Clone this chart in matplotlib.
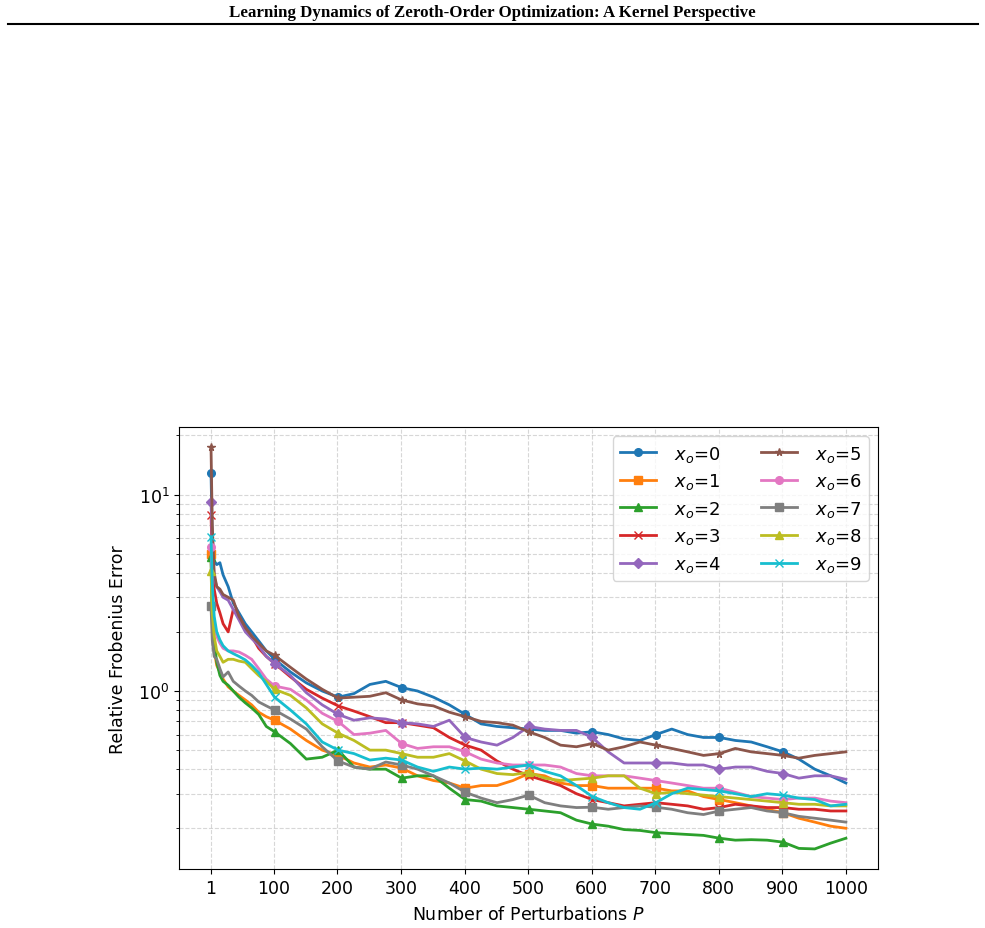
import numpy as np
import matplotlib
matplotlib.use('agg')
import matplotlib.pyplot as plt
from matplotlib.lines import Line2D

P = [1, 3, 6, 10, 15, 20, 28, 36, 45, 55, 65, 76, 88,
     101, 126, 151, 176, 201, 226, 251, 276, 301, 326, 351, 376,
     401, 426, 451, 476, 501, 526, 551, 576, 601, 626, 651, 676,
     701, 726, 751, 776, 801, 826, 851, 876, 901, 926, 951, 976, 1000]

err_0 = [12.9, 6.0, 4.6, 4.4, 4.5, 3.9, 3.4, 2.8, 2.5, 2.2, 2.0, 1.8, 1.6,
         1.45, 1.25, 1.1, 1.0, 0.93, 0.97, 1.08, 1.12, 1.04, 1.0, 0.93, 0.85,
         0.76, 0.68, 0.66, 0.65, 0.64, 0.63, 0.63, 0.61, 0.62, 0.6, 0.57, 0.56,
         0.6, 0.64, 0.6, 0.58, 0.58, 0.56, 0.55, 0.52, 0.49, 0.45, 0.40, 0.37, 0.34]
err_1 = [5.0, 2.5, 1.6, 1.35, 1.25, 1.15, 1.05, 1.0, 0.95, 0.9, 0.85, 0.78, 0.74,
         0.71, 0.64, 0.56, 0.5, 0.47, 0.43, 0.41, 0.42, 0.405, 0.37, 0.35, 0.34,
         0.32, 0.33, 0.33, 0.35, 0.38, 0.37, 0.34, 0.33, 0.33, 0.32, 0.32, 0.32,
         0.32, 0.31, 0.31, 0.29, 0.28, 0.27, 0.26, 0.25, 0.24, 0.225, 0.215, 0.205, 0.20]
err_2 = [4.8, 2.2, 1.8, 1.4, 1.2, 1.12, 1.07, 1.0, 0.93, 0.87, 0.82, 0.76, 0.66,
         0.62, 0.54, 0.45, 0.46, 0.5, 0.41, 0.40, 0.40, 0.36, 0.37, 0.37, 0.32,
         0.28, 0.275, 0.26, 0.255, 0.25, 0.245, 0.24, 0.22, 0.21, 0.205, 0.197, 0.195,
         0.19, 0.188, 0.186, 0.184, 0.178, 0.174, 0.175, 0.174, 0.17, 0.158, 0.157, 0.168, 0.178]
err_3 = [7.9, 4.5, 3.3, 2.8, 2.5, 2.2, 2.0, 2.6, 2.4, 2.1, 1.9, 1.65, 1.5,
         1.38, 1.18, 1.02, 0.92, 0.84, 0.79, 0.74, 0.69, 0.69, 0.67, 0.65, 0.58,
         0.53, 0.50, 0.44, 0.40, 0.37, 0.35, 0.33, 0.30, 0.28, 0.27, 0.26, 0.265,
         0.27, 0.265, 0.26, 0.25, 0.255, 0.265, 0.26, 0.255, 0.255, 0.25, 0.25, 0.245, 0.245]
err_4 = [9.2, 5.5, 3.8, 3.4, 3.2, 3.0, 2.9, 2.6, 2.3, 2.0, 1.85, 1.7, 1.5,
         1.38, 1.2, 0.98, 0.85, 0.76, 0.71, 0.73, 0.72, 0.69, 0.68, 0.66, 0.71,
         0.58, 0.55, 0.53, 0.58, 0.66, 0.64, 0.63, 0.63, 0.58, 0.49, 0.43, 0.43,
         0.43, 0.43, 0.42, 0.42, 0.40, 0.41, 0.41, 0.39, 0.38, 0.36, 0.37, 0.37, 0.355]
err_5 = [17.4, 7.0, 4.0, 3.4, 3.3, 3.1, 3.0, 2.9, 2.4, 2.1, 1.9, 1.75, 1.6,
         1.52, 1.32, 1.15, 1.02, 0.92, 0.93, 0.94, 0.98, 0.9, 0.86, 0.84, 0.78,
         0.74, 0.7, 0.69, 0.67, 0.62, 0.58, 0.53, 0.52, 0.54, 0.50, 0.52, 0.55,
         0.53, 0.51, 0.49, 0.47, 0.48, 0.51, 0.49, 0.48, 0.47, 0.455, 0.47, 0.48, 0.49]
err_6 = [5.4, 3.0, 2.2, 1.9, 1.75, 1.65, 1.6, 1.6, 1.58, 1.52, 1.45, 1.3, 1.15,
         1.06, 1.02, 0.9, 0.77, 0.7, 0.6, 0.61, 0.63, 0.54, 0.51, 0.52, 0.52,
         0.49, 0.45, 0.43, 0.42, 0.42, 0.42, 0.41, 0.38, 0.37, 0.37, 0.37, 0.36,
         0.35, 0.34, 0.33, 0.32, 0.32, 0.305, 0.29, 0.285, 0.28, 0.285, 0.285, 0.275, 0.27]
err_7 = [2.7, 1.8, 1.5, 1.45, 1.3, 1.18, 1.25, 1.12, 1.06, 1.0, 0.95, 0.88, 0.84,
         0.8, 0.72, 0.64, 0.52, 0.44, 0.41, 0.40, 0.435, 0.42, 0.40, 0.37, 0.34,
         0.305, 0.285, 0.27, 0.28, 0.295, 0.27, 0.26, 0.255, 0.256, 0.25, 0.255, 0.26,
         0.256, 0.25, 0.24, 0.235, 0.245, 0.25, 0.255, 0.245, 0.24, 0.23, 0.225, 0.22, 0.215]
err_8 = [4.1, 2.5, 1.9, 1.6, 1.5, 1.4, 1.45, 1.45, 1.42, 1.4, 1.3, 1.2, 1.12,
         1.02, 0.95, 0.82, 0.68, 0.61, 0.56, 0.50, 0.50, 0.48, 0.46, 0.46, 0.48,
         0.44, 0.40, 0.38, 0.375, 0.385, 0.36, 0.35, 0.355, 0.36, 0.37, 0.37, 0.32,
         0.30, 0.305, 0.30, 0.295, 0.29, 0.285, 0.28, 0.275, 0.27, 0.265, 0.265, 0.26, 0.26]
err_9 = [6.1, 3.5, 2.4, 2.0, 1.82, 1.7, 1.6, 1.55, 1.5, 1.44, 1.35, 1.24, 1.08,
         0.93, 0.8, 0.68, 0.55, 0.5, 0.48, 0.445, 0.455, 0.445, 0.41, 0.39, 0.41,
         0.40, 0.405, 0.40, 0.41, 0.42, 0.39, 0.37, 0.33, 0.29, 0.27, 0.255, 0.25,
         0.27, 0.30, 0.32, 0.315, 0.31, 0.30, 0.29, 0.30, 0.295, 0.285, 0.28, 0.26, 0.265]

series = [err_0, err_1, err_2, err_3, err_4, err_5, err_6, err_7, err_8, err_9]
markers = ['o', 's', '^', 'x', 'D', '*', 'o', 's', '^', 'x']

x_ticks = [1, 100, 200, 300, 400, 500, 600, 700, 800, 900, 1000]
# markers every 100 perturbations (P = 1, 101, 201, ...)
mark_idx = [P.index(p) for p in range(1, 1000, 100)]

fig = plt.figure(figsize=(9.85, 9.29), dpi=100)

# page header
fig.text(0.5, 0.986, 'Learning Dynamics of Zeroth-Order Optimization: A Kernel Perspective',
         ha='center', va='center', family='Liberation Serif', weight='bold', fontsize=12.2)
fig.add_artist(Line2D([0.008, 0.993], [0.973, 0.973], color='black', lw=1.5))

ax = fig.add_axes([0.182, 0.0635, 0.709, 0.4755])

for i, (y, m) in enumerate(zip(series, markers)):
    ax.plot(P, y, marker=m, markevery=mark_idx, lw=2, markersize=5.5,
            label=r'$x_o$=' + str(i))

ax.set_yscale('log')
ax.set_xticks(x_ticks)
ax.tick_params(labelsize=12.5)
ax.grid(True, which='both', linestyle='--', alpha=0.5)
ax.set_xlabel('Number of Perturbations $P$', fontsize=12.5, labelpad=6)
ax.set_ylabel('Relative Frobenius Error', fontsize=12.5, labelpad=8)
ax.legend(ncol=2, loc='upper right', fontsize=13, labelspacing=0.42,
          handletextpad=1.0, columnspacing=2.2)

plt.savefig('out.png', dpi=100)
